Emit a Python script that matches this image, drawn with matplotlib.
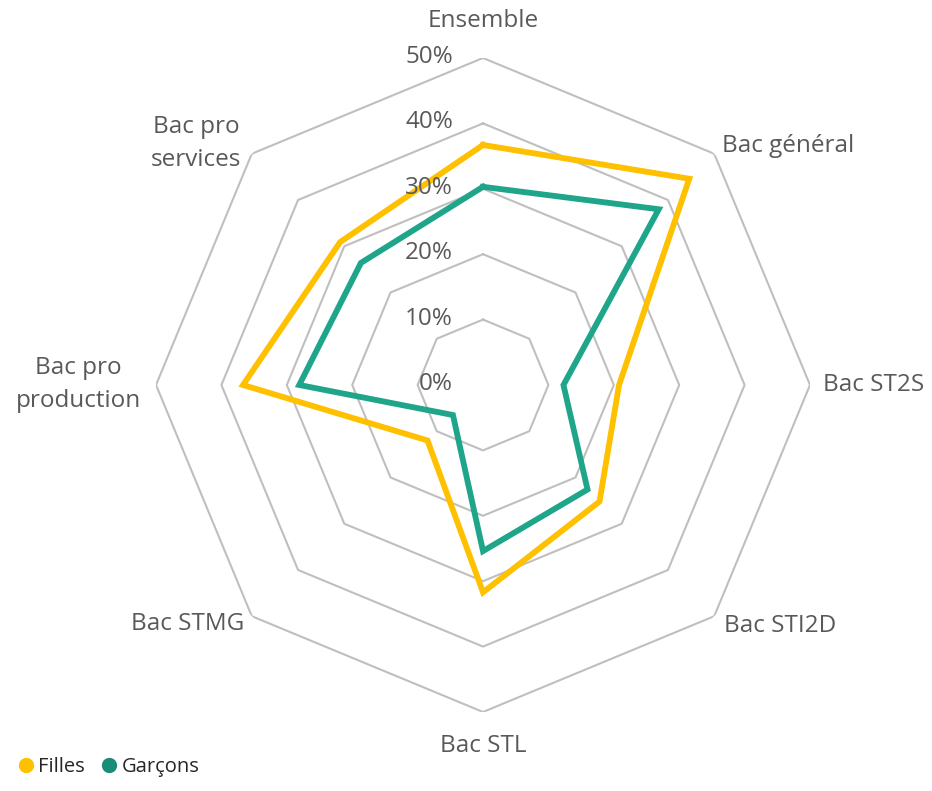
import numpy as np
import matplotlib
matplotlib.use("Agg")
import matplotlib.pyplot as plt
from matplotlib.lines import Line2D

plt.rcParams['font.family'] = ['Open Sans', 'DejaVu Sans']

# Data (% of students)
categories = ["Ensemble", "Bac général", "Bac ST2S", "Bac STI2D", "Bac STL",
              "Bac STMG", "Bac pro\nproduction", "Bac pro\nservices"]
filles = [36.7, 44.6, 20.8, 25.2, 31.7, 12.0, 36.7, 30.9]
garcons = [30.3, 38.0, 12.3, 22.6, 25.4, 6.5, 28.1, 26.4]
levels = [0, 10, 20, 30, 40, 50]
level_labels = ["0%", "10%", "20%", "30%", "40%", "50%"]

n = len(categories)
theta = np.arange(n) * 2 * np.pi / n
theta_closed = np.append(theta, theta[0])

fig = plt.figure(figsize=(9.32, 7.91), dpi=100)
ax = fig.add_axes([0.1674, 0.0999, 0.7017, 0.8268], projection='polar')
ax.set_theta_zero_location('N')
ax.set_theta_direction(-1)
ax.set_ylim(0, 50)
ax.grid(False)
ax.spines['polar'].set_visible(False)
ax.set_xticks([])
ax.set_yticks([])
ax.patch.set_visible(False)

# octagonal gridlines
for lv in levels[1:]:
    ax.plot(theta_closed, [lv] * (n + 1), color='#BFBFBF', lw=1.5, zorder=1)

# series
ax.plot(theta_closed, filles + filles[:1], color='#FFC000', lw=4.2,
        solid_joinstyle='miter', zorder=3, label='Filles')
ax.plot(theta_closed, garcons + garcons[:1], color='#1FA58A', lw=4.2,
        solid_joinstyle='miter', zorder=4, label='Garçons')

txt = '#595959'
fs = 17.5
# radial value labels
for lv, lab in zip(levels, level_labels):
    ax.annotate(lab, xy=(0, lv), xytext=(-30, 1), textcoords='offset pixels',
                ha='right', va='center', fontsize=fs, color=txt)

# category labels
label_pos = [
    (55.6, 'center'),
    (51.6, 'left'),
    (52.0, 'left'),
    (52.2, 'left'),
    (55.2, 'center'),
    (51.6, 'right'),
    (52.3, 'right'),
    (52.3, 'right'),
]
for t, cat, (r, ha) in zip(theta, categories, label_pos):
    ax.text(t, r, cat, ha=ha, va='center', multialignment='center',
            fontsize=fs, color=txt, linespacing=1.5)

handles = [Line2D([], [], marker='o', ls='none', color='#FFC000', markersize=10),
           Line2D([], [], marker='o', ls='none', color='#1A8C78', markersize=10)]
fig.legend(handles, ['Filles', 'Garçons'], loc='lower left',
           bbox_to_anchor=(0.0, 0.0), ncol=2, frameon=False, fontsize=14.5,
           handletextpad=0.0, columnspacing=0.6, labelcolor='#262626',
           borderaxespad=0.3, handlelength=1.2)

fig.savefig('out.png', dpi=100)
